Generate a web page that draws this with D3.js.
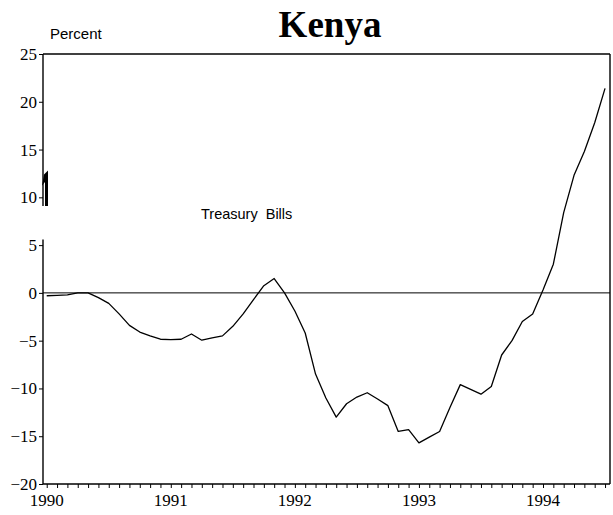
<!DOCTYPE html>
<html>
<head>
<meta charset="utf-8">
<script src="https://cdn.jsdelivr.net/npm/d3@7"></script>
<style>
  html, body { margin: 0; padding: 0; background: #fff; }
  svg { display: block; }
</style>
</head>
<body>
<script>
// ---- data (monthly) ----
const periods = [
  "1990-01","1990-02","1990-03","1990-04","1990-05","1990-06","1990-07","1990-08","1990-09","1990-10","1990-11","1990-12",
  "1991-01","1991-02","1991-03","1991-04","1991-05","1991-06","1991-07","1991-08","1991-09","1991-10","1991-11","1991-12",
  "1992-01","1992-02","1992-03","1992-04","1992-05","1992-06","1992-07","1992-08","1992-09","1992-10","1992-11","1992-12",
  "1993-01","1993-02","1993-03","1993-04","1993-05","1993-06","1993-07","1993-08","1993-09","1993-10","1993-11","1993-12",
  "1994-01","1994-02","1994-03","1994-04","1994-05","1994-06","1994-07"
];
const treasuryBills = [
  -0.3, -0.25, -0.2, 0.0, 0.0, -0.5, -1.1, -2.2, -3.4, -4.1, -4.5, -4.85,
  -4.9, -4.85, -4.3, -4.95, -4.7, -4.5, -3.5, -2.2, -0.7, 0.75, 1.5, 0.0,
  -1.9, -4.2, -8.5, -11.0, -13.0, -11.6, -10.9, -10.45, -11.1, -11.8, -14.5, -14.3,
  -15.7, -15.1, -14.5, -12.0, -9.6, -10.1, -10.6, -9.8, -6.5, -5.0, -3.0, -2.2,
  0.3, 3.0, 8.4, 12.3, 14.8, 17.8, 21.4
];
const yTicks = [25, 20, 15, 10, 5, 0, -5, -10, -15, -20];
const yearLabels = ["1990", "1991", "1992", "1993", "1994"];
const titleText = "Kenya";
const unitText = "Percent";
const seriesLabel = "Treasury  Bills";

// ---- layout ----
const W = 613, H = 515;
const mLeft = 43, mRight = 610, mTop = 54, mBottom = 484;
const serif = "'Times New Roman', 'Liberation Serif', serif";
const sans = "Arial, 'Liberation Sans', sans-serif";

const toYear = s => { const [yy, mm] = s.split("-").map(Number); return yy + (mm - 1) / 12; };
const data = periods.map((p, i) => ({ t: toYear(p), v: treasuryBills[i] }));

const x = d3.scaleLinear().domain([1989.97, 1994.54]).range([mLeft, mRight]);
const y = d3.scaleLinear().domain([-20, 25]).range([mBottom, mTop]);

const svg = d3.select("body").append("svg").attr("width", W).attr("height", H);

// title + unit
svg.append("text").attr("x", 330).attr("y", 37).attr("text-anchor", "middle")
  .style("font-family", serif).style("font-weight", "bold").style("font-size", "37px")
  .text(titleText);
svg.append("text").attr("x", 50).attr("y", 39)
  .style("font-family", sans).style("font-size", "15px").text(unitText);

// frame: top, right, bottom
const frame = svg.append("g").attr("stroke", "#000").attr("stroke-width", 1.4).attr("fill", "none");
frame.append("line").attr("x1", mLeft).attr("x2", mRight).attr("y1", mTop).attr("y2", mTop);
frame.append("line").attr("x1", mRight).attr("x2", mRight).attr("y1", mTop).attr("y2", mBottom);
frame.append("line").attr("x1", mLeft).attr("x2", mRight).attr("y1", mBottom).attr("y2", mBottom);
// left axis line (with the gap seen in the scan)
frame.append("line").attr("x1", mLeft).attr("x2", mLeft).attr("y1", mTop).attr("y2", y(9.1));
frame.append("line").attr("x1", mLeft).attr("x2", mLeft).attr("y1", y(5.6)).attr("y2", mBottom);

// scan mark beside the 10 label
svg.append("path").attr("fill", "#000")
  .attr("d", `M${mLeft + 1},${y(12.4)} L${mLeft + 5},${y(12.8)} L${mLeft + 5},${y(9.1)} L${mLeft + 2},${y(9.1)} L${mLeft + 2},${y(11.6)} L${mLeft - 1},${y(11.2)} Z`);

// y axis
const yAxis = d3.axisLeft(y).tickValues(yTicks).tickSize(4).tickPadding(2).tickFormat(d3.format("d"));
const gy = svg.append("g").attr("transform", `translate(${mLeft},0)`).call(yAxis);
gy.select(".domain").remove();
gy.selectAll("line").attr("stroke", "#000").attr("stroke-width", 1);
gy.selectAll("text").style("font-family", serif).style("font-size", "17px").attr("fill", "#000");

// x axis: monthly ticks + yearly labels
const monthTicks = periods.map(toYear);
const xAxis = d3.axisBottom(x).tickValues(monthTicks).tickSize(4).tickFormat("");
const gx = svg.append("g").attr("transform", `translate(0,${mBottom})`).call(xAxis);
gx.select(".domain").remove();
gx.selectAll("line").attr("stroke", "#000").attr("stroke-width", 1);

svg.append("g").selectAll("text").data(yearLabels).join("text")
  .attr("x", d => x(+d)).attr("y", 506).attr("text-anchor", "middle")
  .style("font-family", serif).style("font-size", "17px").text(d => d);

// zero line
svg.append("line").attr("x1", mLeft).attr("x2", mRight).attr("y1", y(0)).attr("y2", y(0))
  .attr("stroke", "#000").attr("stroke-width", 1);

// series
svg.append("path").datum(data)
  .attr("fill", "none").attr("stroke", "#000").attr("stroke-width", 1.3).attr("stroke-linejoin", "round")
  .attr("d", d3.line().x(d => x(d.t)).y(d => y(d.v)));

// series label
svg.append("text").attr("x", 201).attr("y", 219)
  .style("font-family", sans).style("font-size", "14.5px").style("white-space", "pre")
  .attr("xml:space", "preserve").text(seriesLabel);
</script>
</body>
</html>
